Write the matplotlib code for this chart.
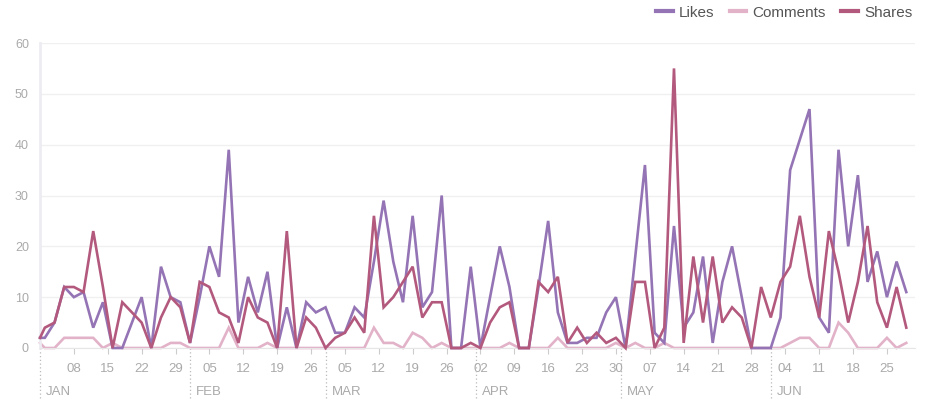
import numpy as np
import pandas as pd
import matplotlib
matplotlib.use('Agg')
import matplotlib.pyplot as plt
import matplotlib.dates as mdates
import matplotlib.transforms as mtransforms

# sample dates: Jan 1, then every second day from Jan 2 to Jun 29
dates = pd.DatetimeIndex([pd.Timestamp('2014-01-01')]).append(
    pd.date_range('2014-01-02', '2014-06-29', freq='2D'))

likes = [2,
         2, 5, 12, 10, 11, 4, 9, 0, 0, 5,
         10, 0, 16, 10, 9, 1, 10, 20, 14, 39,
         5, 14, 7, 15, 0, 8, 0, 9, 7, 8,
         3, 3, 8, 6, 17, 29, 17, 9, 26, 8,
         11, 30, 0, 0, 16, 0, 10, 20, 12, 0,
         0, 12, 25, 7, 1, 1, 2, 2, 7, 10,
         0, 18, 36, 3, 1, 24, 4, 7, 18, 1,
         13, 20, 10, 0, 0, 0, 6, 35, 41, 47,
         6, 3, 39, 20, 34, 13, 19, 10, 17, 11]

comments = [1,
            0, 0, 2, 2, 2, 2, 0, 1, 0, 0,
            0, 0, 0, 1, 1, 0, 0, 0, 0, 4,
            0, 0, 0, 1, 0, 0, 0, 0, 0, 0,
            0, 0, 0, 0, 4, 1, 1, 0, 3, 2,
            0, 1, 0, 0, 0, 0, 0, 0, 1, 0,
            0, 0, 0, 2, 0, 0, 0, 0, 0, 1,
            0, 1, 0, 0, 1, 0, 0, 0, 0, 0,
            0, 0, 0, 0, 0, 0, 0, 1, 2, 2,
            0, 0, 5, 3, 0, 0, 0, 2, 0, 1]

shares = [2,
          4, 5, 12, 12, 11, 23, 12, 0, 9, 7,
          5, 0, 6, 10, 8, 1, 13, 12, 7, 6,
          1, 10, 6, 5, 0, 23, 0, 6, 4, 0,
          2, 3, 6, 3, 26, 8, 10, 13, 16, 6,
          9, 9, 0, 0, 1, 0, 5, 8, 9, 0,
          0, 13, 11, 14, 1, 4, 1, 3, 1, 2,
          0, 13, 13, 0, 4, 55, 1, 18, 5, 18,
          5, 8, 6, 0, 12, 6, 13, 16, 26, 14,
          6, 23, 15, 5, 13, 24, 9, 4, 12, 4]

series_names = ['Likes', 'Comments', 'Shares']
series_colors = ['#9474b4', '#e2b2c8', '#b3597d']

month_starts = pd.date_range('2014-01-01', '2014-06-01', freq='MS')
month_labels = ['JAN', 'FEB', 'MAR', 'APR', 'MAY', 'JUN']
week_ticks = pd.date_range('2014-01-08', '2014-06-25', freq='7D')

plt.rcParams['font.family'] = ['Liberation Sans', 'DejaVu Sans']

fig = plt.figure(figsize=(9.27, 4.01), dpi=100)
ax = fig.add_axes([40 / 927, 53 / 401, 875 / 927, 305 / 401])

for name, vals, col, z in zip(series_names, [likes, comments, shares], series_colors, [3, 2, 4]):
    ax.plot(dates, vals, color=col, lw=1.9, label=name, zorder=z, clip_on=False,
            solid_joinstyle='miter')

ax.set_ylim(0, 60)
ax.set_yticks([0, 10, 20, 30, 40, 50, 60])
ax.set_xlim(pd.Timestamp('2014-01-01'), pd.Timestamp('2014-01-01') + pd.Timedelta(days=180.8))

ax.grid(axis='y', color='#f0f0f0', lw=1)
ax.set_axisbelow(True)
for s in ['top', 'right']:
    ax.spines[s].set_visible(False)
ax.spines['left'].set_color('#ececf2')
ax.spines['left'].set_linewidth(2)
ax.spines['bottom'].set_color('#e6e6e6')

ax.tick_params(axis='y', length=0, pad=8, labelsize=9, labelcolor='#aaaaaa')
ax.set_xticks(week_ticks)
ax.set_xticklabels(week_ticks.strftime('%d'))
ax.tick_params(axis='x', length=4, color='#cccccc', pad=7, labelsize=9.5, labelcolor='#aaaaaa')

trans = mtransforms.blended_transform_factory(ax.transData, ax.transAxes)
for m, lab in zip(month_starts, month_labels):
    ax.plot([m, m], [0, -0.165], transform=trans, color='#bbbbbb', lw=0.9,
            ls=(0, (1, 2)), clip_on=False)
    ax.text(m + pd.Timedelta(days=1.3), -0.145, lab, transform=trans,
            ha='left', va='center', fontsize=9.5, color='#aaaaaa')

fig.legend(loc='upper right', bbox_to_anchor=(0.999, 1.02), ncol=3, frameon=False,
           handlelength=1.1, handletextpad=0.4, columnspacing=1.0, fontsize=11,
           labelcolor='#555555')
for line in fig.legends[0].get_lines():
    line.set_linewidth(3)

fig.savefig('out.png', dpi=100)
